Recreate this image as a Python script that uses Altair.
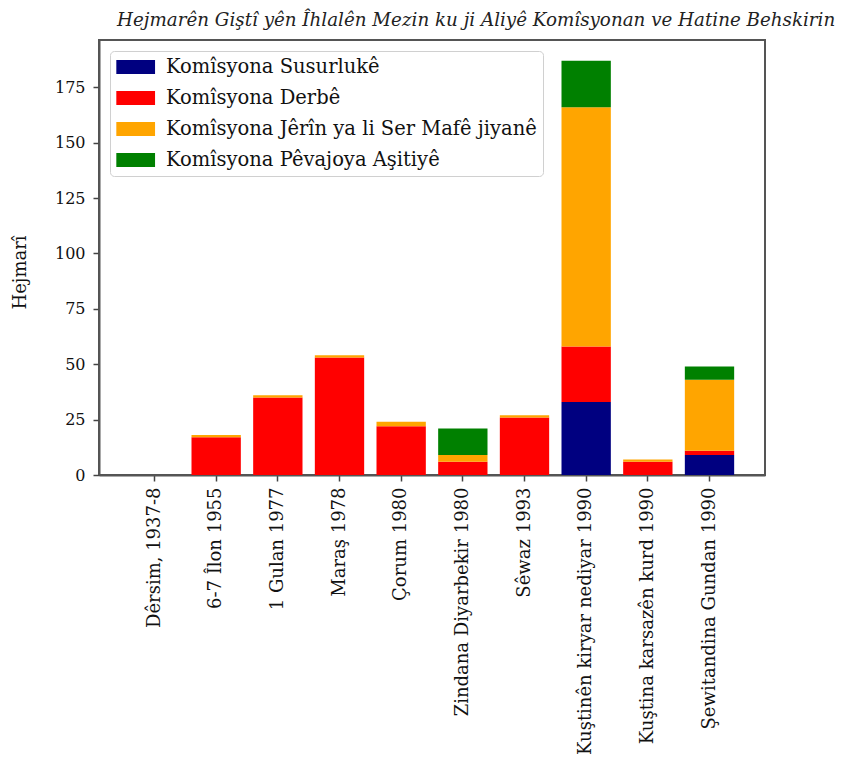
import altair as alt
import pandas as pd

categories = [
    "Dêrsim, 1937-8",
    "6-7 Îlon 1955",
    "1 Gulan 1977",
    "Maraş 1978",
    "Çorum 1980",
    "Zindana Diyarbekir 1980",
    "Sêwaz 1993",
    "Kuştinên kiryar nediyar 1990",
    "Kuştina karsazên kurd 1990",
    "Şewitandina Gundan 1990",
]
series_names = [
    "Komîsyona Susurlukê",
    "Komîsyona Derbê",
    "Komîsyona Jêrîn ya li Ser Mafê jiyanê",
    "Komîsyona Pêvajoya Aşitiyê",
]
susurluk = [0, 0, 0, 0, 0, 0, 0, 33, 0, 9]
derbe = [0, 17, 35, 53, 22, 6, 26, 25, 6, 2]
jerin = [0, 1, 1, 1, 2, 3, 1, 108, 1, 32]
pevajoy = [0, 0, 0, 0, 0, 12, 0, 21, 0, 6]
colors = ["#000080", "#ff0000", "#ffa500", "#008000"]
y_ticks = [0, 25, 50, 75, 100, 125, 150, 175]

rows = []
for si, (name, vals) in enumerate(zip(series_names, [susurluk, derbe, jerin, pevajoy])):
    for c, v in zip(categories, vals):
        rows.append({"cat": c, "series": name, "value": v, "idx": si})
df = pd.DataFrame(rows)

FONT = "DejaVu Serif"

chart = alt.Chart(df).mark_bar().encode(
    x=alt.X("cat:N", sort=categories,
            scale=alt.Scale(paddingInner=0.2, paddingOuter=0.5),
            axis=alt.Axis(title=None, labelAngle=-90, labelFontSize=18, labelFont=FONT,
                          labelColor="#111", tickSize=6, tickColor="#444", tickWidth=1.5,
                          labelPadding=6, domainColor="#555", domainWidth=2, labelLimit=0)),
    y=alt.Y("value:Q", stack="zero",
            scale=alt.Scale(domain=[0, 196.35], nice=False, zero=True),
            axis=alt.Axis(title="Hejmarî", values=y_ticks, grid=False, labelFontSize=16,
                          labelFont=FONT, labelColor="#111", tickSize=6, tickColor="#444",
                          tickWidth=1.5, labelPadding=8, domainColor="#555", domainWidth=2,
                          titleFont=FONT, titleFontSize=18, titleFontWeight="normal",
                          titleColor="#111", titleX=-70, titleY=232)),
    color=alt.Color("series:N", sort=series_names,
                    scale=alt.Scale(domain=series_names, range=colors),
                    legend=alt.Legend(title=None, orient="top-left", offset=11,
                                      labelFont=FONT, labelFontSize=19.5, labelColor="#111",
                                      labelLimit=0,
                                      symbolType="M-1,-0.72L3,-0.72L3,0.72L-1,0.72Z",
                                      symbolSize=375, symbolStrokeWidth=0, symbolOpacity=1,
                                      rowPadding=11, padding=6, labelOffset=30,
                                      strokeColor="#d0d0d0", fillColor="white",
                                      cornerRadius=4)),
    order=alt.Order("idx:Q", sort="ascending"),
).properties(
    width=666,
    height=435,
    title=alt.TitleParams(
        "Hejmarên Giştî yên Îhlalên Mezin ku ji Aliyê Komîsyonan ve Hatine Behskirin",
        anchor="start", dx=106, fontStyle="italic", fontSize=18.3, font=FONT,
        fontWeight="normal", color="#222", offset=10),
    autosize=alt.AutoSizeParams(type="none"),
    padding={"left": 91, "top": 32, "right": 92, "bottom": 293},
).configure_view(stroke="#555", strokeWidth=2)

chart.save("out.html", embed_options={"renderer": "svg", "actions": False})
